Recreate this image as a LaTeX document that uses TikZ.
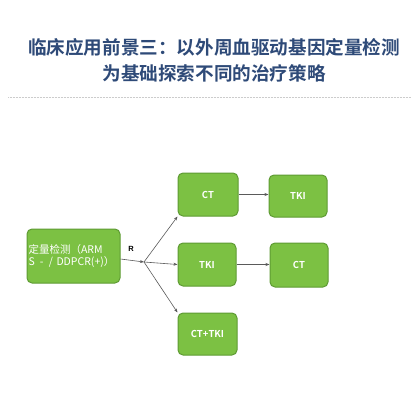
\documentclass[tikz,border=0pt]{standalone}
\usepackage{fontspec}
\setmainfont{Liberation Sans}
\newfontfamily\cjk{Noto Sans CJK SC}[BoldFont={Noto Sans CJK SC Bold}]
\usetikzlibrary{arrows.meta}
\definecolor{titleblue}{HTML}{2E4A78}
\definecolor{boxgreen}{HTML}{7CC143}
\definecolor{boxborder}{HTML}{5E9B33}
\definecolor{arrowgray}{HTML}{5A5A5A}
\begin{document}
\begin{tikzpicture}[x=1pt,y=-1pt,
  gbox/.style={draw=boxborder,line width=1pt,fill=boxgreen,rounded corners=5pt,text=white,font=\cjk\bfseries\fontsize{9.5}{11}\selectfont},
  conn/.style={draw=arrowgray,line width=0.6pt,-{Stealth[length=4pt,width=3pt]}}]
\useasboundingbox (0,0) rectangle (420,420);
\fill[white] (0,0) rectangle (420,420);
\node[font=\cjk\bfseries\fontsize{18.6}{26}\selectfont,text=titleblue,align=center] (title) at (214,60)
  {临床应用前景三：以外周血驱动基因定量检测\\为基础探索不同的治疗策略};
\draw[gray!40,line width=1pt,dash pattern=on 1pt off 0.5pt] (8,97) -- (411,97);
% boxes
\node[gbox,minimum width=93pt,minimum height=54pt,text width=90pt,align=left,inner sep=1.5pt,font=\cjk\fontsize{10.5}{11.5}\selectfont] (src) at (73.5,256)
  {定量检测（ARM\\\mbox{S\,~-\,~/ DDPCR(+)）}};
\node[gbox,minimum width=60pt,minimum height=43pt] (ct1) at (208,194.5) {CT};
\node[gbox,minimum width=58pt,minimum height=42pt] (tki1) at (298,196) {TKI};
\node[gbox,minimum width=58pt,minimum height=43pt] (tki2) at (207,264.5) {TKI};
\node[gbox,minimum width=58pt,minimum height=44pt] (ct2) at (299,265) {CT};
\node[gbox,minimum width=59pt,minimum height=42pt] (both) at (207.5,334) {CT+TKI};
\coordinate (fork) at (144,262);
\draw[conn] (src.east |- 0,259) -- (fork) node[pos=0.45,above=5pt,font=\bfseries\fontsize{7.5}{8}\selectfont,text=black] (rlab) {R};
\draw[conn] (fork) -- (ct1.south west);
\draw[conn] (fork) -- (tki2.west);
\draw[conn] (fork) -- (both.north west);
\draw[conn] (ct1.east) -- (tki1.west |- ct1.east);
\draw[conn] (tki2.east) -- (ct2.west |- tki2.east);
\end{tikzpicture}
\end{document}
